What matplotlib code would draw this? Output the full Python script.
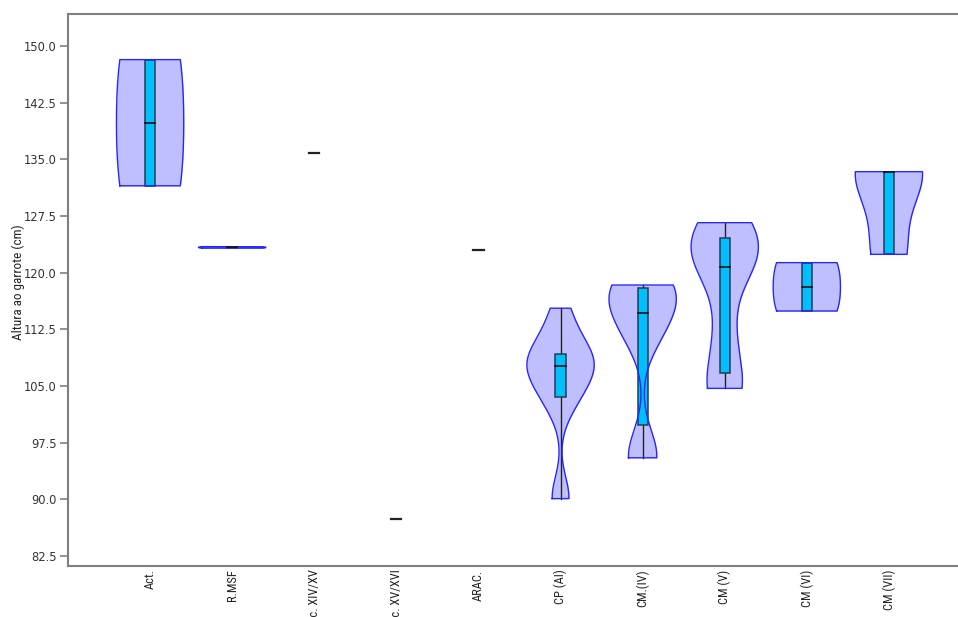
import numpy as np
import matplotlib
matplotlib.use("Agg")
import matplotlib.pyplot as plt
from matplotlib.patches import Rectangle
from matplotlib.transforms import ScaledTranslation

# ---------------- data ----------------
categories = ["Act.", "R.MSF", "Séc. XIV/XV", "Séc. XV/XVI", "ARAC.",
              "CP (AI)", "CM.(IV)", "CM (V)", "CM (VI)", "CM (VII)"]

act = [131.5, 148.2]
rmsf = [123.25, 123.45]
sec_xiv_xv = [135.84]
sec_xv_xvi = [87.36]
arac = [123.0]
cp_ai = [90.1, 90.3, 102.0, 103.6, 104.6, 105.8, 106.8, 107.6, 108.3,
         108.8, 109.0, 109.2, 111.3, 113.3, 115.3]
cm_iv = [95.5, 95.8, 111.96, 112.8, 116.6, 117.5, 118.07, 118.37]
cm_v = [104.69, 104.9, 111.98, 120.0, 121.58, 124.0, 124.84, 126.62]
cm_vi = [114.93, 121.33]
cm_vii = [122.43, 133.37, 133.37]

groups = [act, rmsf, sec_xiv_xv, sec_xv_xvi, arac, cp_ai, cm_iv, cm_v, cm_vi, cm_vii]
# kernel bandwidths (data units) used for each violin
bandwidths = [9.25, 0.11, None, None, None, 2.8, 3.5, 4.0, 3.55, 4.5]

y_ticks = [82.5, 90.0, 97.5, 105.0, 112.5, 120.0, 127.5, 135.0, 142.5, 150.0]

narrow = ["Roboto Condensed", "Archivo Narrow", "DejaVu Sans"]

# ---------------- figure ----------------
fig = plt.figure(figsize=(9.58, 6.17), dpi=100)
ax = fig.add_axes([68 / 958, 1 - 566 / 617, (971 - 68) / 958, (566 - 14) / 617])

violin_fill = "#bfbfff"
violin_edge = "#2626ff"
box_fill = "#00bfff"
box_edge = "#263a50"
half_width = 0.41
box_half = 0.062

for i, (vals, bw) in enumerate(zip(groups, bandwidths)):
    vals = np.asarray(vals, dtype=float)
    if len(vals) >= 2:
        lo, hi = vals.min(), vals.max()
        yy = np.linspace(lo, hi, 300)
        dens = np.exp(-0.5 * ((yy[:, None] - vals[None, :]) / bw) ** 2).sum(axis=1)
        w = half_width * dens / dens.max()
        ax.fill_betweenx(yy, i - w, i + w, color=violin_fill, lw=0, zorder=1)
        q1, med, q3 = np.percentile(vals, [25, 50, 75], method="weibull")
        # whiskers
        ax.plot([i, i], [q3, hi], color="#222222", lw=1.0, zorder=2)
        ax.plot([i, i], [lo, q1], color="#222222", lw=1.0, zorder=2)
        # box
        ax.add_patch(Rectangle((i - box_half, q1), 2 * box_half, q3 - q1,
                               facecolor=box_fill, edgecolor=box_edge, lw=1.1, zorder=3))
        # violin outline
        ox = np.concatenate([i - w, (i + w)[::-1], [i - w[0]]])
        oy = np.concatenate([yy, yy[::-1], [yy[0]]])
        ax.plot(ox, oy, color=violin_edge, lw=1.0, zorder=5)
        ax.plot([i - box_half, i + box_half], [med, med], color="#111111", lw=1.2, zorder=6)
    else:
        med = vals[0]
        ax.plot([i - box_half, i + box_half], [med, med], color="#222222", lw=1.6, zorder=6)

# ---------------- axes styling ----------------
ax.set_xlim(-1, 10)
ax.set_ylim(81.18, 154.24)
ax.set_yticks(y_ticks)
ax.set_yticklabels([f"{t:.1f}" for t in y_ticks], fontsize=8.3, color="#333333",
                   family="DejaVu Sans")
ax.set_xticks(range(len(categories)))
ax.set_xticklabels(categories, rotation=90, ha="center", va="top", fontsize=9,
                   family=narrow, color="#222222")
offset = ScaledTranslation(4 / 100, 0, fig.dpi_scale_trans)
for lab in ax.get_xticklabels():
    lab.set_transform(lab.get_transform() + offset)

ax.tick_params(axis="x", length=0, pad=2.5)
ax.tick_params(axis="y", length=6, width=1.2, color="#808080", pad=2)
for side in ["left", "bottom", "top", "right"]:
    ax.spines[side].set_color("#7f7f7f")
    ax.spines[side].set_linewidth(1.5)

ax.set_ylabel("Altura ao garrote (cm)", fontsize=9.5, family=narrow, color="#222222")
ax.yaxis.set_label_coords(-0.048, 0.515)

fig.savefig("out.png", dpi=100)
